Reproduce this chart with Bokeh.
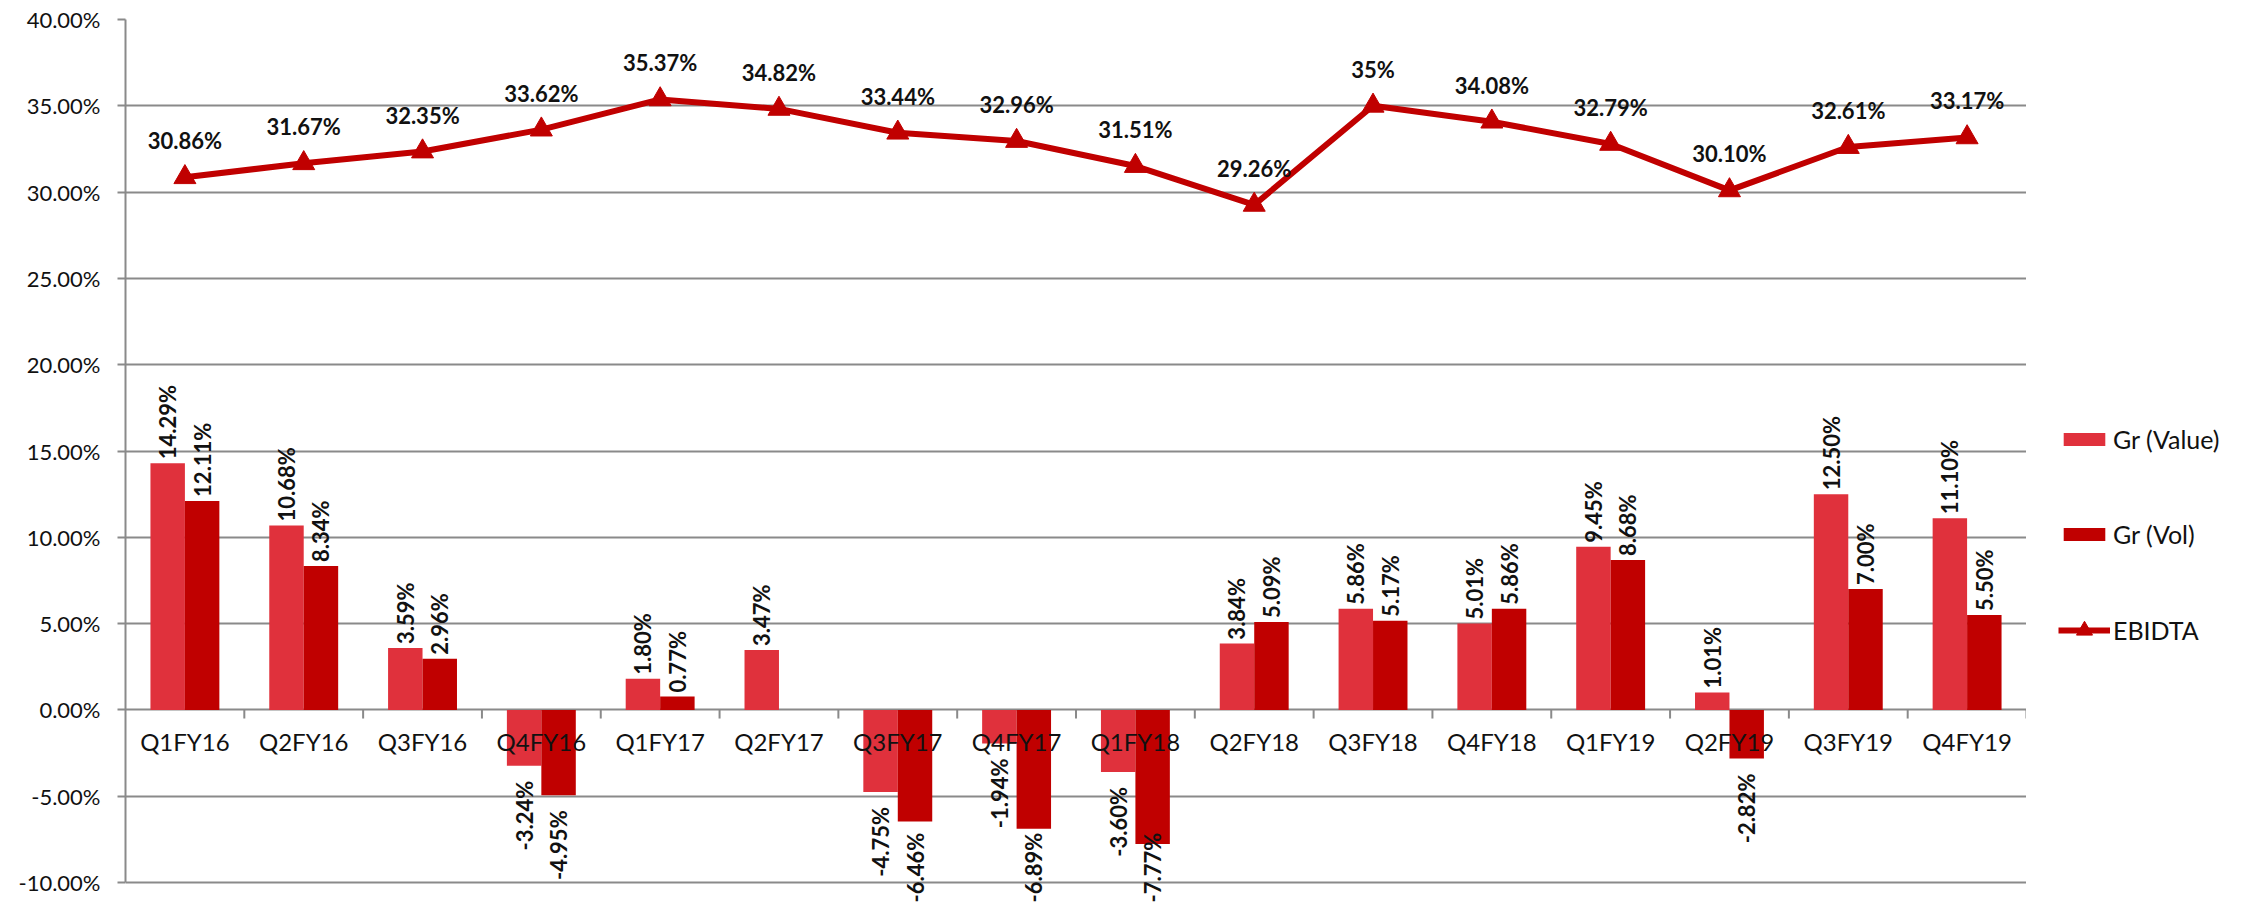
import math
from bokeh.plotting import figure
from bokeh.layouts import row
from bokeh.models import (ColumnDataSource, FactorRange, Range1d, FixedTicker,
                          PrintfTickFormatter, LabelSet, Legend, LegendItem)
from bokeh.core.properties import value
from bokeh.transform import dodge
from bokeh.embed import file_html
from bokeh.resources import INLINE

categories = ["Q1FY16", "Q2FY16", "Q3FY16", "Q4FY16", "Q1FY17", "Q2FY17", "Q3FY17", "Q4FY17",
              "Q1FY18", "Q2FY18", "Q3FY18", "Q4FY18", "Q1FY19", "Q2FY19", "Q3FY19", "Q4FY19"]
gr_value = [14.29, 10.68, 3.59, -3.24, 1.80, 3.47, -4.75, -1.94,
            -3.60, 3.84, 5.86, 5.01, 9.45, 1.01, 12.50, 11.10]
gr_vol = [12.11, 8.34, 2.96, -4.95, 0.77, None, -6.46, -6.89,
          -7.77, 5.09, 5.17, 5.86, 8.68, -2.82, 7.00, 5.50]
ebitda = [30.86, 31.67, 32.35, 33.62, 35.37, 34.82, 33.44, 32.96,
          31.51, 29.26, 35.00, 34.08, 32.79, 30.10, 32.61, 33.17]
ebitda_labels = ["30.86%", "31.67%", "32.35%", "33.62%", "35.37%", "34.82%", "33.44%", "32.96%",
                 "31.51%", "29.26%", "35%", "34.08%", "32.79%", "30.10%", "32.61%", "33.17%"]
y_ticks = [-10, -5, 0, 5, 10, 15, 20, 25, 30, 35, 40]
legend_labels = ["Gr (Value)", "Gr (Vol)", "EBIDTA"]

VALUE_COLOR = "#E0313C"
VOL_COLOR = "#C00000"
LINE_COLOR = "#C00000"
GRID_COLOR = "#8A8A8A"
TEXT_COLOR = "#111111"
FONT = "Lato"
FS = "22px"
CAT_FS = "24px"
LEG_FS = "25px"

# layout (page has no margin: canvas starts at 0,0)
TOTAL_W, FIG_H = 2247, 905
MAIN_W = 2026
BORDER_L, BORDER_T = 125, 19
PX_PER_UNIT = 863 / 50.0
FRAME_H = FIG_H - BORDER_T
Y_MAX = max(y_ticks)
Y_MIN = Y_MAX - FRAME_H / PX_PER_UNIT

nan = float("nan")
vol_vals = [v if v is not None else nan for v in gr_vol]

src = ColumnDataSource(dict(cat=categories, val=gr_value, vol=vol_vals, ebitda=ebitda,
                            elab=ebitda_labels, zero=[0] * len(categories),
                            tick_end=[-0.5] * len(categories)))

p = figure(x_range=FactorRange(*categories), y_range=Range1d(Y_MIN, Y_MAX),
           width=MAIN_W, height=FIG_H, output_backend="svg", toolbar_location=None,
           min_border_left=BORDER_L, min_border_top=BORDER_T, min_border_bottom=0,
           min_border_right=0)
p.outline_line_color = None
p.xaxis.visible = False
p.xgrid.grid_line_color = None
p.ygrid.grid_line_color = GRID_COLOR
p.ygrid.grid_line_width = 2
p.yaxis.ticker = FixedTicker(ticks=y_ticks)
p.yaxis.bounds = (min(y_ticks), max(y_ticks))
p.yaxis.formatter = PrintfTickFormatter(format="%.2f%%")
p.yaxis.major_label_text_font = FONT
p.yaxis.major_label_text_font_size = FS
p.yaxis.major_label_text_color = TEXT_COLOR
p.yaxis.axis_line_color = GRID_COLOR
p.yaxis.axis_line_width = 2
p.yaxis.major_tick_line_color = GRID_COLOR
p.yaxis.major_tick_line_width = 2
p.yaxis.major_tick_out = 8
p.yaxis.major_tick_in = 0
p.yaxis.minor_tick_line_color = None
p.yaxis.major_label_standoff = 17

BW = 0.29
OFF = 0.145
p.vbar(x=dodge("cat", -OFF, range=p.x_range), top="val", width=BW, source=src,
       fill_color=VALUE_COLOR, line_color=None)
p.vbar(x=dodge("cat", OFF, range=p.x_range), top="vol", width=BW, source=src,
       fill_color=VOL_COLOR, line_color=None)

# category separator ticks on the zero line
p.segment(x0=dodge("cat", 0.5, range=p.x_range), y0="zero",
          x1=dodge("cat", 0.5, range=p.x_range), y1="tick_end", source=src,
          line_color=GRID_COLOR, line_width=2)

p.line(x="cat", y="ebitda", source=src, line_color=LINE_COLOR, line_width=6)
p.scatter(x="cat", y="ebitda", source=src, marker="triangle", size=22,
          fill_color=LINE_COLOR, line_color=LINE_COLOR)

# EBITDA labels
p.add_layout(LabelSet(x="cat", y="ebitda", text="elab", source=src, y_offset=28,
                      text_align="center", text_baseline="alphabetic",
                      text_font=value(FONT), text_font_style="bold", text_font_size=FS,
                      text_color=TEXT_COLOR))

# category labels placed at the zero line
p.add_layout(LabelSet(x="cat", y="zero", text="cat", source=src, y_offset=-41,
                      text_align="center", text_baseline="alphabetic",
                      text_font=value(FONT), text_font_size=CAT_FS, text_color=TEXT_COLOR))

NEG_GAP = 15
CHAR_W = {"-": 0.37, ".": 0.27, "%": 0.87}


def text_len(t):
    return 22 * sum(CHAR_W.get(ch, 0.58) for ch in t)


def bar_label_sources(values):
    pos = dict(cat=[], y=[], txt=[])
    neg = dict(cat=[], y=[], txt=[])
    clamp = dict(cat=[], y=[], txt=[])
    for c, v in zip(categories, values):
        if v is None:
            continue
        t = f"{v:.2f}%"
        if v >= 0:
            d = pos
        else:
            end_px = (v - Y_MIN) * PX_PER_UNIT - NEG_GAP - text_len(t)
            d = neg if end_px >= 3 else clamp
        d["cat"].append(c)
        d["y"].append(v if d is not clamp else Y_MIN)
        d["txt"].append(t)
    return ColumnDataSource(pos), ColumnDataSource(neg), ColumnDataSource(clamp)


def add_labels(source, off, y_offset, align):
    p.add_layout(LabelSet(x=dodge("cat", off, range=p.x_range), y="y", text="txt", source=source,
                          angle=math.pi / 2, y_offset=y_offset, text_align=align,
                          text_baseline="middle", text_font=value(FONT), text_font_style="bold",
                          text_font_size=FS, text_color=TEXT_COLOR))


for values, off in ((gr_value, -OFF), (gr_vol, OFF)):
    spos, sneg, sclamp = bar_label_sources(values)
    add_labels(spos, off, 4, "left")
    add_labels(sneg, off, -NEG_GAP, "right")
    add_labels(sclamp, off, 3, "left")

# legend panel to the right of the plot area; its proxy renderers have zero size
# and sit outside its (empty) frame, so only the legend itself is visible
pl = figure(x_range=Range1d(1, 2), y_range=Range1d(1, 2), width=TOTAL_W - MAIN_W, height=FIG_H,
            output_backend="svg", toolbar_location=None,
            min_border_left=0, min_border_right=0, min_border_top=0, min_border_bottom=0)
pl.axis.visible = False
pl.grid.grid_line_color = None
pl.outline_line_color = None
lv = pl.vbar(x="zero", top="zero", bottom="zero", width=0.01, source=src,
             fill_color=VALUE_COLOR, line_color=None)
lo = pl.vbar(x="zero", top="zero", bottom="zero", width=0.01, source=src,
             fill_color=VOL_COLOR, line_color=None)
ll = pl.line(x="zero", y="zero", source=src, line_color=LINE_COLOR, line_width=6)
lm = pl.scatter(x="zero", y="zero", source=src, marker="triangle", size=16,
                fill_color=LINE_COLOR, line_color=LINE_COLOR)

common = dict(orientation="vertical", glyph_width=52, label_standoff=3, padding=0, margin=0,
              border_line_color=None, background_fill_alpha=0, label_text_font=FONT,
              label_text_font_size=LEG_FS, label_text_color=TEXT_COLOR)

legend_bars = Legend(items=[LegendItem(label=legend_labels[0], renderers=[lv]),
                            LegendItem(label=legend_labels[1], renderers=[lo])],
                     location=(32, 356), glyph_height=16, label_height=16, spacing=65, **common)
legend_line = Legend(items=[LegendItem(label=legend_labels[2], renderers=[ll, lm])],
                     location=(32, 255), glyph_height=40, label_height=16, spacing=0, **common)
pl.add_layout(legend_bars)
pl.add_layout(legend_line)

layout = row(p, pl, spacing=0)
open("out.html", "w").write(file_html(layout, INLINE))
